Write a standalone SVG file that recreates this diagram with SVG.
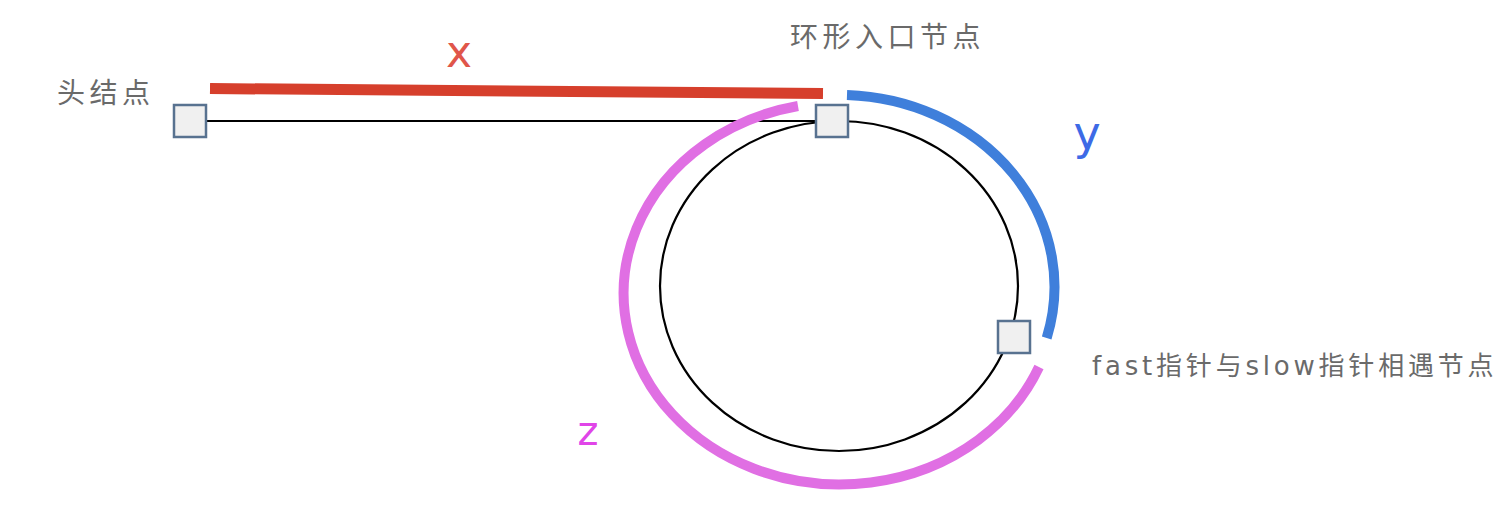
<svg xmlns="http://www.w3.org/2000/svg" width="1498" height="510" viewBox="0 0 1498 510">
<style>
.node{fill:#f0f0f0;stroke:#587290;stroke-width:2.5}
.lbl{font-family:"DejaVu Sans","Noto Sans CJK SC",sans-serif;fill:#6a6a6a;font-size:28px;letter-spacing:4.5px}
.var{font-family:"DejaVu Sans",sans-serif;text-anchor:middle}
.arc{fill:none;stroke-width:10;stroke-linecap:butt}
</style>
<rect width="1498" height="510" fill="#ffffff"/>
<g id="connectors">
<line x1="207" y1="121" x2="832" y2="121" stroke="#000" stroke-width="2.2"/>
<ellipse cx="839" cy="286" rx="179" ry="165" fill="none" stroke="#000" stroke-width="2.2"/>
<line id="seg-x" x1="210" y1="88.5" x2="823" y2="93.5" stroke="#d63f2c" stroke-width="11"/>
<path id="seg-y" class="arc" stroke="#3f7fdb" d="M 847 95 A 215.5 192 0 0 1 1046.7 338"/>
<path id="seg-z" class="arc" stroke="#e06fe3" d="M 1039 367 A 216 191 0 1 1 798 106"/>
</g>
<g id="node-head"><rect class="node" x="174" y="105" width="32" height="32"/></g>
<g id="node-entry"><rect class="node" x="816" y="105" width="32" height="32"/></g>
<g id="node-meet"><rect class="node" x="998" y="321" width="32" height="32"/></g>
<g id="labels">
<text class="lbl" x="57" y="103">头结点</text>
<text class="lbl" x="790" y="47">环形入口节点</text>
<text class="lbl" x="1092" y="375" font-size="26" style="font-size:26px;letter-spacing:3.8px">fast指针与slow指针相遇节点</text>
<text class="var" x="459" y="67" font-size="44" fill="#e0564a">x</text>
<text class="var" x="1087" y="149" font-size="46" fill="#3d6ae6">y</text>
<text class="var" x="588" y="445" font-size="40" fill="#e045e8">z</text>
</g>
</svg>
